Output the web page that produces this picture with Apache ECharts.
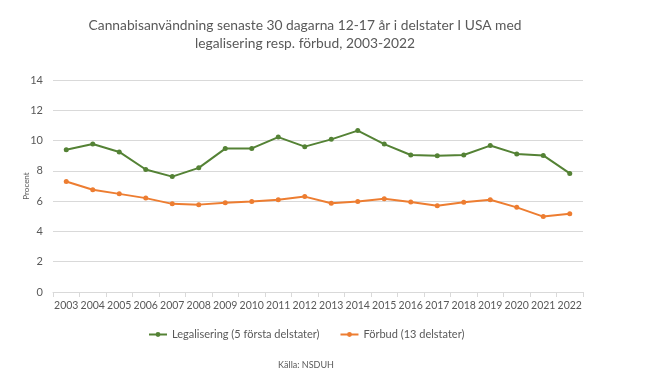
<!DOCTYPE html>
<html>
<head>
<meta charset="utf-8">
<script src="https://cdn.jsdelivr.net/npm/echarts@6/dist/echarts.min.js"></script>
<style>html,body{margin:0;padding:0;background:#fff}#c{width:647px;height:380px}</style>
</head>
<body>
<div id="c"></div>
<script>
const years = ['2003','2004','2005','2006','2007','2008','2009','2010','2011','2012','2013','2014','2015','2016','2017','2018','2019','2020','2021','2022'];
const legalisering = [9.39,9.77,9.25,8.09,7.62,8.2,9.47,9.48,10.23,9.6,10.08,10.66,9.77,9.05,9.0,9.05,9.67,9.12,9.02,7.83];
const forbud = [7.3,6.75,6.48,6.2,5.82,5.77,5.9,5.98,6.09,6.3,5.86,5.98,6.16,5.95,5.69,5.92,6.09,5.59,4.98,5.17];
const yTicks = [0,2,4,6,8,10,12,14];
const seriesNames = ['Legalisering (5 första delstater)','Förbud (13 delstater)'];

const font = 'Lato, "Open Sans", sans-serif';
const chart = echarts.init(document.getElementById('c'));
chart.setOption({
  animation: false,
  backgroundColor: '#fff',
  title: [{
    text: 'Cannabisanvändning senaste 30 dagarna 12-17 år i delstater I USA med\nlegalisering resp. förbud, 2003-2022',
    left: 300, top: 12, textAlign: 'center',
    textStyle: {fontFamily: font, fontSize: 13.8, fontWeight: 'normal', color: '#595959', lineHeight: 18}
  },{
    text: 'Källa: NSDUH',
    left: 301, top: 356, textAlign: 'center',
    textStyle: {fontFamily: font, fontSize: 9, fontWeight: 'normal', color: '#595959'}
  }],
  legend: {
    data: seriesNames,
    left: 143, top: 324,
    itemWidth: 18, itemHeight: 6, itemGap: 20,
    textStyle: {fontFamily: font, fontSize: 11, color: '#595959'}
  },
  grid: {left: 53, right: 64, top: 80, bottom: 88, containLabel: false},
  xAxis: {
    type: 'category', data: years, boundaryGap: true,
    axisLine: {lineStyle: {color: '#d9d9d9'}},
    axisTick: {show: true, lineStyle: {color: '#d9d9d9'}, length: 5},
    axisLabel: {interval: 0, color: '#595959', fontFamily: font, fontSize: 10.5, margin: 8}
  },
  yAxis: {
    type: 'value', min: 0, max: 14, interval: 2,
    name: 'Procent', nameLocation: 'middle', nameGap: 23, nameRotate: 90,
    nameMoveOverlap: false,
    nameTextStyle: {fontFamily: font, fontSize: 8, color: '#595959'},
    axisLine: {show: false}, axisTick: {show: false},
    splitLine: {lineStyle: {color: '#d9d9d9'}},
    axisLabel: {color: '#595959', fontFamily: font, fontSize: 11, margin: 10,
      formatter: v => yTicks.includes(v) ? String(v) : ''}
  },
  series: [{
    name: seriesNames[0], type: 'line', data: legalisering,
    symbol: 'circle', symbolSize: 5,
    lineStyle: {color: '#548235', width: 2}, itemStyle: {color: '#548235'}
  },{
    name: seriesNames[1], type: 'line', data: forbud,
    symbol: 'circle', symbolSize: 5,
    lineStyle: {color: '#ED7D31', width: 2}, itemStyle: {color: '#ED7D31'}
  }]
});
</script>
</body>
</html>
